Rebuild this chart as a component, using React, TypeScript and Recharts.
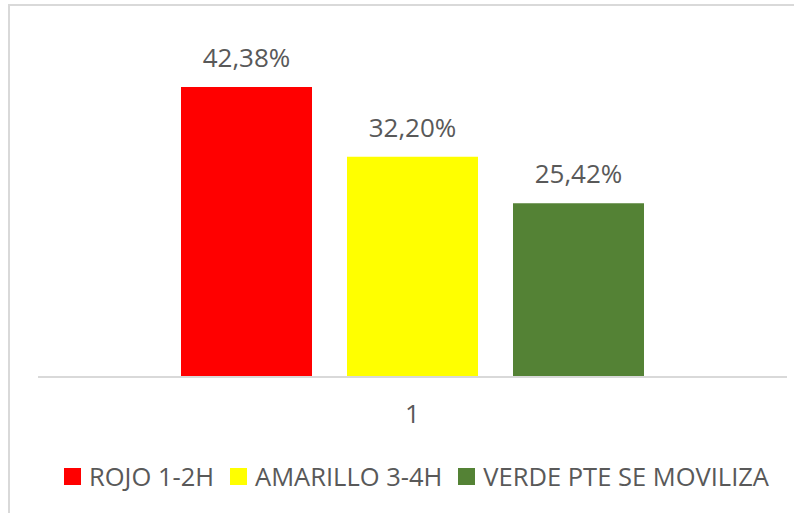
import React from 'react';
import { BarChart, Bar, XAxis, YAxis, Legend, LabelList } from 'recharts';

const categories = ['1'];
const seriesNames = ['ROJO 1-2H', 'AMARILLO 3-4H', 'VERDE PTE SE MOVILIZA'];
const seriesKeys = ['rojo', 'amarillo', 'verde'];
const seriesValues = [[42.38], [32.2], [25.42]];
const seriesColors = ['#FF0000', '#FFFF00', '#548235'];

const data = categories.map((c, i) => {
  const row: Record<string, any> = { name: c };
  seriesKeys.forEach((k, s) => {
    row[k] = seriesValues[s][i];
  });
  return row;
});

const FONT = '"Open Sans", sans-serif';
const TEXT = '#595959';

const fmt = (v: any) => `${Number(v).toFixed(2).replace('.', ',')}%`;

const LegendContent = (props: any) => {
  const payload = [...(props.payload || [])].sort(
    (a: any, b: any) => seriesNames.indexOf(a.value) - seriesNames.indexOf(b.value)
  );
  return (
    <div style={{ display: 'flex', alignItems: 'center', height: 30, fontFamily: FONT, fontSize: 25.5, color: TEXT, whiteSpace: 'nowrap' }}>
      {payload.map((p: any, i: number) => (
        <div key={i} style={{ display: 'flex', alignItems: 'center', marginRight: 16 }}>
          <span style={{ display: 'inline-block', width: 17, height: 17, background: p.color, marginRight: 8 }} />
          <span style={{ lineHeight: '30px' }}>{p.value}</span>
        </div>
      ))}
    </div>
  );
};

export default function App() {
  return (
    <div style={{ position: 'absolute', left: 0, top: 0, width: 802, height: 513, background: '#fff', overflow: 'hidden' }}>
      <div style={{ position: 'absolute', left: 8, top: 4, width: 784, height: 520, borderTop: '2px solid #d9d9d9', borderLeft: '2px solid #d9d9d9' }} />
      <BarChart
        width={802}
        height={513}
        data={data}
        margin={{ top: 35, right: 15, left: 38, bottom: 22 }}
        barSize={131}
        barGap={35}
      >
        <YAxis hide domain={[0, 50]} />
        <XAxis
          dataKey="name"
          height={84}
          tickLine={false}
          tickSize={0}
          tickMargin={28}
          axisLine={{ stroke: '#d9d9d9', strokeWidth: 2 }}
          tick={{ fill: TEXT, fontSize: 26, fontFamily: FONT }}
        />
        <Legend
          verticalAlign="bottom"
          height={30}
          itemSorter={null as any}
          content={<LegendContent />}
          wrapperStyle={{ left: 64, width: 740 }}
        />
        {seriesKeys.map((k, s) => (
          <Bar key={k} dataKey={k} name={seriesNames[s]} fill={seriesColors[s]} isAnimationActive={false}>
            <LabelList dataKey={k} position="top" offset={20} formatter={fmt} style={{ fill: TEXT, fontSize: 26, fontFamily: FONT }} />
          </Bar>
        ))}
      </BarChart>
    </div>
  );
}
